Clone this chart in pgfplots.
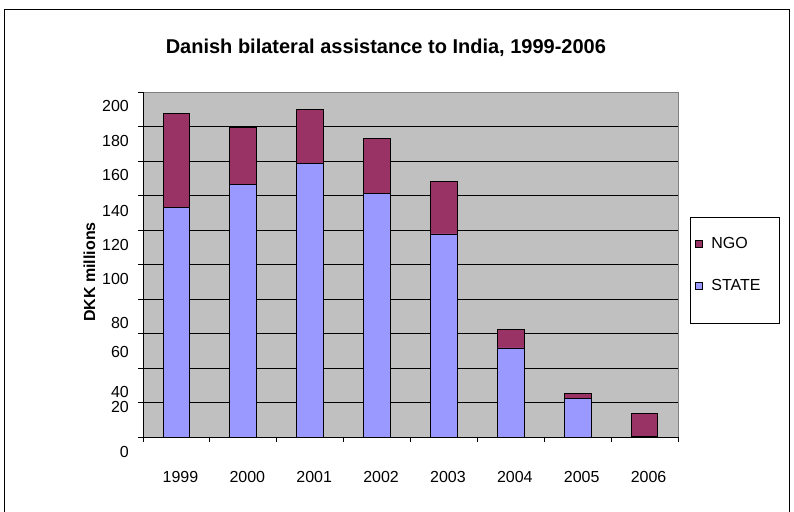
\documentclass[border=0pt]{standalone}
\usepackage{fontspec}
\setmainfont{Liberation Sans}
\usepackage{pgfplots}
\pgfplotsset{compat=1.18}
\definecolor{ngo}{HTML}{993366}
\definecolor{state}{HTML}{9999FF}
\definecolor{plotbg}{HTML}{C0C0C0}
\definecolor{edge}{HTML}{808080}
\newcommand\lab{\fontsize{16bp}{19bp}\selectfont}

\begin{document}
\begin{tikzpicture}
\useasboundingbox (0,0) rectangle (794bp,512bp);
\fill[white] (0,0) rectangle (794bp,512bp);
\draw[line width=0.9bp] (4bp,-5bp) -- (4bp,503bp) -- (789bp,503bp) -- (789bp,-5bp);
\begin{axis}[
  at={(143bp,75bp)}, anchor=south west,
  width=535bp, height=345bp, scale only axis,
  xmin=-0.5, xmax=7.5, ymin=0, ymax=200,
  clip=false,
  ybar stacked, bar width=0.4,
  axis background/.style={fill=plotbg, draw=edge},
  axis x line*=bottom, axis y line*=left,
  axis line style={black, line width=0.9bp, -},
  tick align=outside,
  major tick length=5bp, minor tick length=5bp,
  tick style={black, line width=0.9bp},
  ytick={0,20,...,180}, yticklabels={},
  extra y ticks={200}, extra y tick labels={},
  extra y tick style={grid=none},
  ymajorgrids, grid style={black, line width=0.9bp},
  xtick={0,...,7},
  xticklabels={1999,2000,2001,2002,2003,2004,2005,2006},
  major x tick style={draw=none},
  minor xtick={-0.5,0.5,...,7.5},
  tick label style={font=\lab},
  xticklabel style={yshift=-26bp, xshift=4bp},
  title={Danish bilateral assistance to India, 1999-2006},
  title style={at={(0.454,1.11)}, anchor=center,
    font=\bfseries\fontsize{20bp}{24bp}\selectfont},
  ylabel={DKK millions},
  ylabel style={at={(-0.1,0.478)}, anchor=center, font=\bfseries\lab},
  reverse legend,
  legend image code/.code={\draw[#1, draw=black, line width=0.9bp] (0bp,2bp) rectangle (7bp,9bp);},
  legend style={at={(1.0224,0.638)}, anchor=north west,
    draw=black, line width=0.9bp, fill=white,
    inner xsep=5bp, inner ysep=20bp, row sep=17.5bp, column sep=8bp,
    font=\lab,
    nodes={inner sep=0pt, text height=11.5bp, text depth=13bp, text width=63bp}},
]
\addplot[fill=state, draw=black, line width=0.9bp] coordinates
  {(0,133.2) (1,146.3) (2,158.6) (3,141.3) (4,117.7) (5,51.6) (6,22.3) (7,0.5)};
\addlegendentry{STATE}
\addplot[fill=ngo, draw=black, line width=0.9bp] coordinates
  {(0,54.6) (1,33.2) (2,31.1) (3,31.8) (4,30.5) (5,11.0) (6,2.9) (7,13.4)};
\addlegendentry{NGO}
% y tick labels sit off their gridlines in the original
\node[anchor=east, inner sep=0pt, xshift=-14bp, font=\lab] at (axis cs:-0.5,191.7) {200};
\node[anchor=east, inner sep=0pt, xshift=-14bp, font=\lab] at (axis cs:-0.5,171.8) {180};
\node[anchor=east, inner sep=0pt, xshift=-14bp, font=\lab] at (axis cs:-0.5,152.1) {160};
\node[anchor=east, inner sep=0pt, xshift=-14bp, font=\lab] at (axis cs:-0.5,131.2) {140};
\node[anchor=east, inner sep=0pt, xshift=-14bp, font=\lab] at (axis cs:-0.5,111.5) {120};
\node[anchor=east, inner sep=0pt, xshift=-14bp, font=\lab] at (axis cs:-0.5,91.8) {100};
\node[anchor=east, inner sep=0pt, xshift=-14bp, font=\lab] at (axis cs:-0.5,66.3) {80};
\node[anchor=east, inner sep=0pt, xshift=-14bp, font=\lab] at (axis cs:-0.5,49.5) {60};
\node[anchor=east, inner sep=0pt, xshift=-14bp, font=\lab] at (axis cs:-0.5,26.3) {40};
\node[anchor=east, inner sep=0pt, xshift=-14bp, font=\lab] at (axis cs:-0.5,17.6) {20};
\node[anchor=east, inner sep=0pt, xshift=-14bp, font=\lab] at (axis cs:-0.5,-8.5) {0};
\end{axis}
\end{tikzpicture}
\end{document}
